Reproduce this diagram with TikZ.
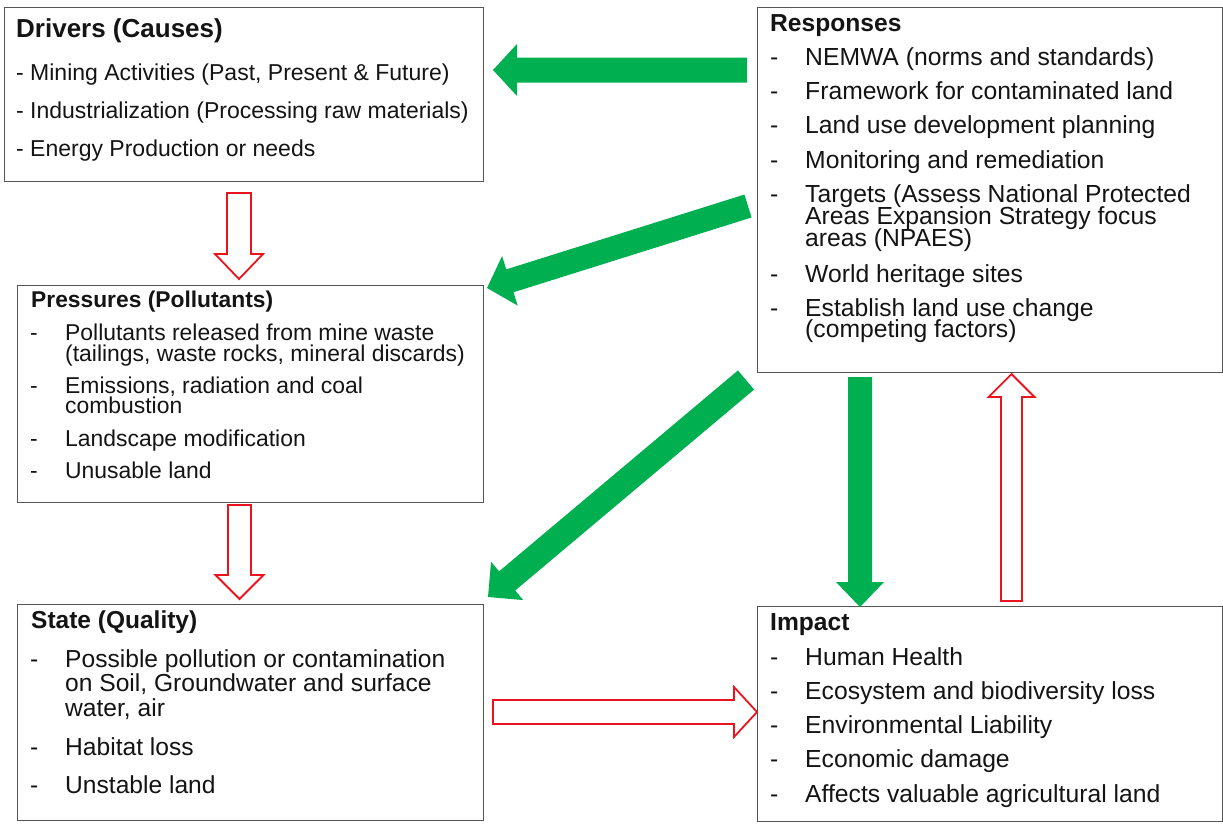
\documentclass[tikz,border=0pt]{standalone}
\usepackage{fontspec}
\setmainfont{Liberation Sans}
\usetikzlibrary{calc}
\definecolor{grn}{RGB}{0,176,80}
\definecolor{rd}{RGB}{235,20,30}
\definecolor{bdr}{RGB}{85,85,85}
\newcommand\blockarr[6]{%
  \coordinate (#2-hb) at ($(#3)!#6!(#2)$);
  \path[#1] ($(#2)!#4!90:(#3)$) -- ($(#2-hb)!#4!90:(#3)$) -- ($(#2-hb)!#5!90:(#3)$) -- (#3)
    -- ($(#2-hb)!#5!-90:(#3)$) -- ($(#2-hb)!#4!-90:(#3)$) -- ($(#2)!#4!-90:(#3)$) -- cycle;
}
\newcommand\fs[1]{\fontsize{#1}{#1}\selectfont}
\begin{document}
\begin{tikzpicture}[x=1pt,y=-1pt,
  box/.style={draw=bdr,line width=1.4pt,fill=white,anchor=north west,inner sep=0pt},
  tx/.style={anchor=base west,inner sep=0pt,text=black!92},
  greenarrow/.style={fill=grn,draw=none},
  redarrow/.style={draw=rd,fill=white,line width=1.8pt,line join=miter}]
\useasboundingbox (0,0) rectangle (1223,823);
% boxes
\node[box,minimum width=479pt,minimum height=174pt] (drv) at (4,7) {};
\node[box,minimum width=466pt,minimum height=217pt] (prs) at (17,285) {};
\node[box,minimum width=466pt,minimum height=216pt] (sta) at (17,604) {};
\node[box,minimum width=465pt,minimum height=365pt] (rsp) at (757,7) {};
\node[box,minimum width=465pt,minimum height=215pt] (imp) at (757,606) {};
% Drivers text
\node[tx,font=\bfseries\fs{26}] (drvT) at (16,37) {Drivers (Causes)};
\begin{scope}[every node/.style={tx,font=\fs{23}}]
\node (drv1) at (16,80) {- Mining Activities (Past, Present \& Future)};
\node (drv2) at (16,118) {- Industrialization (Processing raw materials)};
\node (drv3) at (16,156) {- Energy Production or needs};
\end{scope}
% Pressures text
\node[tx,font=\bfseries\fs{22.8}] (prsT) at (31,307) {Pressures (Pollutants)};
\begin{scope}[every node/.style={tx,font=\fs{22.9}}]
\node (prsd1) at (30,340) {-};
\node (prs1a) at (65,340) {Pollutants released from mine waste};
\node (prs1b) at (65,361) {(tailings, waste rocks, mineral discards)};
\node (prsd2) at (30,393) {-};
\node (prs2a) at (65,393) {Emissions, radiation and coal};
\node (prs2b) at (65,413) {combustion};
\node (prsd3) at (30,446) {-};
\node (prs3) at (65,446) {Landscape modification};
\node (prsd4) at (30,478) {-};
\node (prs4) at (65,478) {Unusable land};
\end{scope}
% State text
\node[tx,font=\bfseries\fs{24.5}] (staT) at (31,628) {State (Quality)};
\begin{scope}[every node/.style={tx,font=\fs{24.6}}]
\node (stad1) at (30,667) {-};
\node (sta1a) at (65,667) {Possible pollution or contamination};
\node (sta1b) at (65,691) {on Soil, Groundwater and surface};
\node (sta1c) at (65,716) {water, air};
\node (stad2) at (30,755) {-};
\node (sta2) at (65,755) {Habitat loss};
\node (stad3) at (30,793) {-};
\node (sta3) at (65,793) {Unstable land};
\end{scope}
% Responses text
\node[tx,font=\bfseries\fs{24.6}] (rspT) at (770,31) {Responses};
\begin{scope}[every node/.style={tx,font=\fs{24.7}}]
\node (rspd1) at (770,65) {-};
\node (rsp1) at (805,65) {NEMWA (norms and standards)};
\node (rspd2) at (770,99) {-};
\node (rsp2) at (805,99) {Framework for contaminated land};
\node (rspd3) at (770,133) {-};
\node (rsp3) at (805,133) {Land use development planning};
\node (rspd4) at (770,168) {-};
\node (rsp4) at (805,168) {Monitoring and remediation};
\node (rspd5) at (770,202) {-};
\node (rsp5a) at (805,202) {Targets (Assess National Protected};
\node (rsp5b) at (805,224) {Areas Expansion Strategy focus};
\node (rsp5c) at (805,246) {areas (NPAES)};
\node (rspd6) at (770,282) {-};
\node (rsp6) at (805,282) {World heritage sites};
\node (rspd7) at (770,316) {-};
\node (rsp7a) at (805,316) {Establish land use change};
\node (rsp7b) at (805,337) {(competing factors)};
\end{scope}
% Impact text
\node[tx,font=\bfseries\fs{24.6}] (impT) at (770,630) {Impact};
\begin{scope}[every node/.style={tx,font=\fs{24.7}}]
\node (impd1) at (770,665) {-};
\node (imp1) at (805,665) {Human Health};
\node (impd2) at (770,699) {-};
\node (imp2) at (805,699) {Ecosystem and biodiversity loss};
\node (impd3) at (770,733) {-};
\node (imp3) at (805,733) {Environmental Liability};
\node (impd4) at (770,767) {-};
\node (imp4) at (805,767) {Economic damage};
\node (impd5) at (770,802) {-};
\node (imp5) at (805,802) {Affects valuable agricultural land};
\end{scope}
% arrow end points
\coordinate (g1s) at (747,70);   \coordinate (g1t) at (493,70);
\coordinate (g2s) at (748,206);  \coordinate (g2t) at (487,288);
\coordinate (g3s) at (746,380);  \coordinate (g3t) at (488,597);
\coordinate (g4s) at (860,377);  \coordinate (g4t) at (860,607);
\coordinate (r1s) at (239,193);  \coordinate (r1t) at (239,279);
\coordinate (r2s) at (239.5,505);\coordinate (r2t) at (239.5,599);
\coordinate (r3s) at (493,712);  \coordinate (r3t) at (757,712);
\coordinate (r4s) at (1011.5,601); \coordinate (r4t) at (1011.5,374);
% green arrows (responses)
\blockarr{greenarrow}{g1s}{g1t}{12.5pt}{26pt}{24pt}
\blockarr{greenarrow}{g2s}{g2t}{12pt}{26pt}{24pt}
\blockarr{greenarrow}{g3s}{g3t}{12.5pt}{25pt}{25pt}
\blockarr{greenarrow}{g4s}{g4t}{12pt}{24pt}{25pt}
% red hollow arrows (causal chain)
\blockarr{redarrow}{r1s}{r1t}{12pt}{24pt}{25pt}
\blockarr{redarrow}{r2s}{r2t}{11.5pt}{24pt}{24pt}
\blockarr{redarrow}{r3s}{r3t}{12pt}{25pt}{23pt}
\blockarr{redarrow}{r4s}{r4t}{10.5pt}{23pt}{23pt}
\end{tikzpicture}
\end{document}
